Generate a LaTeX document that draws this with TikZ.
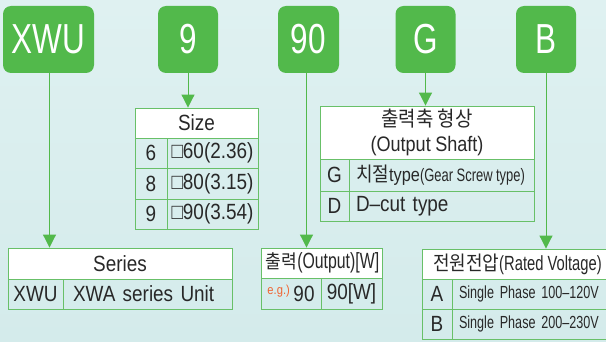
\documentclass[tikz,border=0pt]{standalone}
\usepackage{fontspec}
\setmainfont{Liberation Sans}[FakeStretch=0.86]
\newfontfamily\kr{Noto Sans CJK KR}[FakeStretch=0.9]
\newfontfamily\narrow{Liberation Sans}[FakeStretch=0.72]
\newfontfamily\bigf{Liberation Sans}[FakeStretch=0.75]
\newcommand\tightsp{\spaceskip=4.5pt\relax}
\newcommand\tightspn{\spaceskip=3.5pt\relax}
\usetikzlibrary{arrows.meta}
\definecolor{bgtop}{RGB}{223,241,241}
\definecolor{bgbot}{RGB}{212,235,235}
\definecolor{boxgreen}{RGB}{82,185,75}
\definecolor{tline}{RGB}{104,192,104}
\definecolor{txt}{RGB}{40,40,40}
\definecolor{eg}{RGB}{240,100,50}
\tikzset{
  codebox/.style={fill=boxgreen, rounded corners=8pt, text=white, inner sep=0pt,
    minimum height=67pt, font=\bigf\fontsize{42}{42}\selectfont},
  cell/.style={draw=tline, line width=0.9pt, inner sep=0pt, text=txt,
    font=\fontsize{22}{22}\selectfont\tightsp},
  lcell/.style={cell, text width=#1, align=left},
  head/.style={cell, fill=white},
  nfont/.style={font=\narrow\fontsize{17.5}{17.5}\selectfont\tightspn},
  conn/.style={draw=boxgreen, line width=1pt},
  tip/.style={conn, -{Triangle[width=13pt,length=13pt]}},
}
\begin{document}
\begin{tikzpicture}[x=1pt,y=-1pt]
\useasboundingbox (0,0) rectangle (606,342);
\shade[top color=bgtop, bottom color=bgbot] (0,0) rectangle (606,342);

% code boxes
\node[codebox, minimum width=91pt] (bx) at (48.5,39.5) {XWU};
\node[codebox, minimum width=60pt] (b9) at (188,39.5) {9};
\node[codebox, minimum width=61pt] (b90) at (308.5,39.5) {90};
\node[codebox, minimum width=60pt] (bg) at (425.5,39.5) {G};
\node[codebox, minimum width=60pt] (bb) at (546,39.5) {B};

% Size table
\node[head, minimum width=123pt, minimum height=30pt] (sz) at (196.5,123) {Size};
\node[cell, minimum width=32pt, minimum height=30.5pt] (s6k) at (151,153.25) {6};
\node[cell, minimum width=91pt, minimum height=30.5pt] (s6v) at (212.5,153.25) {□60(2.36)};
\node[cell, minimum width=32pt, minimum height=30.5pt] (s8k) at (151,183.75) {8};
\node[cell, minimum width=91pt, minimum height=30.5pt] (s8v) at (212.5,183.75) {□80(3.15)};
\node[cell, minimum width=32pt, minimum height=30pt] (s9k) at (151,214) {9};
\node[cell, minimum width=91pt, minimum height=30pt] (s9v) at (212.5,214) {□90(3.54)};

% Output shaft table
\node[head, minimum width=214pt, minimum height=53pt, align=center,
  font=\fontsize{21}{25}\selectfont\tightsp] (sh) at (427,132.5)
  {{\kr\fontsize{21}{21}\selectfont 출력축 형상}\\(Output Shaft)};
\node[cell, minimum width=29pt, minimum height=32pt] (shgk) at (334.5,175) {G};
\node[lcell=185pt, minimum height=32pt] (shgv) at (441.5,175)
  {\hspace*{7pt}{\kr\fontsize{20}{20}\selectfont 치절}{\fontsize{19}{19}\selectfont type}{\narrow\fontsize{18}{18}\selectfont(Gear\hspace{3.5pt}Screw\hspace{3.5pt}type)}};
\node[cell, minimum width=29pt, minimum height=30pt] (shdk) at (334.5,206) {D};
\node[lcell=185pt, minimum height=30pt] (shdv) at (441.5,206)
  {\hspace*{7pt}D–cut type};

% Series table
\node[head, minimum width=224pt, minimum height=31pt] (ser) at (120,263.5) {Series};
\node[cell, minimum width=55pt, minimum height=30pt] (serk) at (35.5,294) {XWU};
\node[lcell=169pt, minimum height=30pt] (serv) at (147.5,294) {\hspace*{10pt}XWA series Unit};

% Output table
\node[head, minimum width=121pt, minimum height=30pt] (out) at (321.5,263)
  {\hspace*{2pt}{\kr\fontsize{19}{19}\selectfont 출력}{\narrow\fontsize{22}{22}\selectfont(Output)[W]}};
\node[cell, minimum width=60pt, minimum height=31pt] (outk) at (291,293.5)
  {\raisebox{7pt}{\color{eg}\fontsize{13}{13}\selectfont e.g.)}\,90};
\node[cell, minimum width=61pt, minimum height=31pt] (outv) at (351.5,293.5) {90[W]};

% Voltage table
\node[head, lcell=184pt, minimum height=30pt] (vt) at (514,264)
  {\hspace*{11pt}{\kr\fontsize{20}{20}\selectfont 전원전압}{\narrow\fontsize{20.5}{20.5}\selectfont(Rated\hspace{4pt}Voltage)}};
\node[cell, minimum width=30pt, minimum height=30pt] (vak) at (437,294) {A};
\node[lcell=154pt, minimum height=30pt, nfont] (vav) at (529,294)
  {\hspace*{7pt}Single Phase 100–120V};
\node[cell, minimum width=30pt, minimum height=30pt] (vbk) at (437,324) {B};
\node[lcell=154pt, minimum height=30pt, nfont] (vbv) at (529,324)
  {\hspace*{7pt}Single Phase 200–230V};

% connectors
\draw[tip] ([xshift=1pt]bx.south) -- ([xshift=1pt]bx.south |- ser.north);
\draw[tip] (b9.south) -- (b9.south |- sz.north);
\draw[tip] ([xshift=-2pt]b90.south) -- ([xshift=-2pt]b90.south |- out.north);
\draw[tip] (bg.south) -- (bg.south |- sh.north);
\draw[tip] (bb.south) -- (bb.south |- vt.north);
\end{tikzpicture}
\end{document}
